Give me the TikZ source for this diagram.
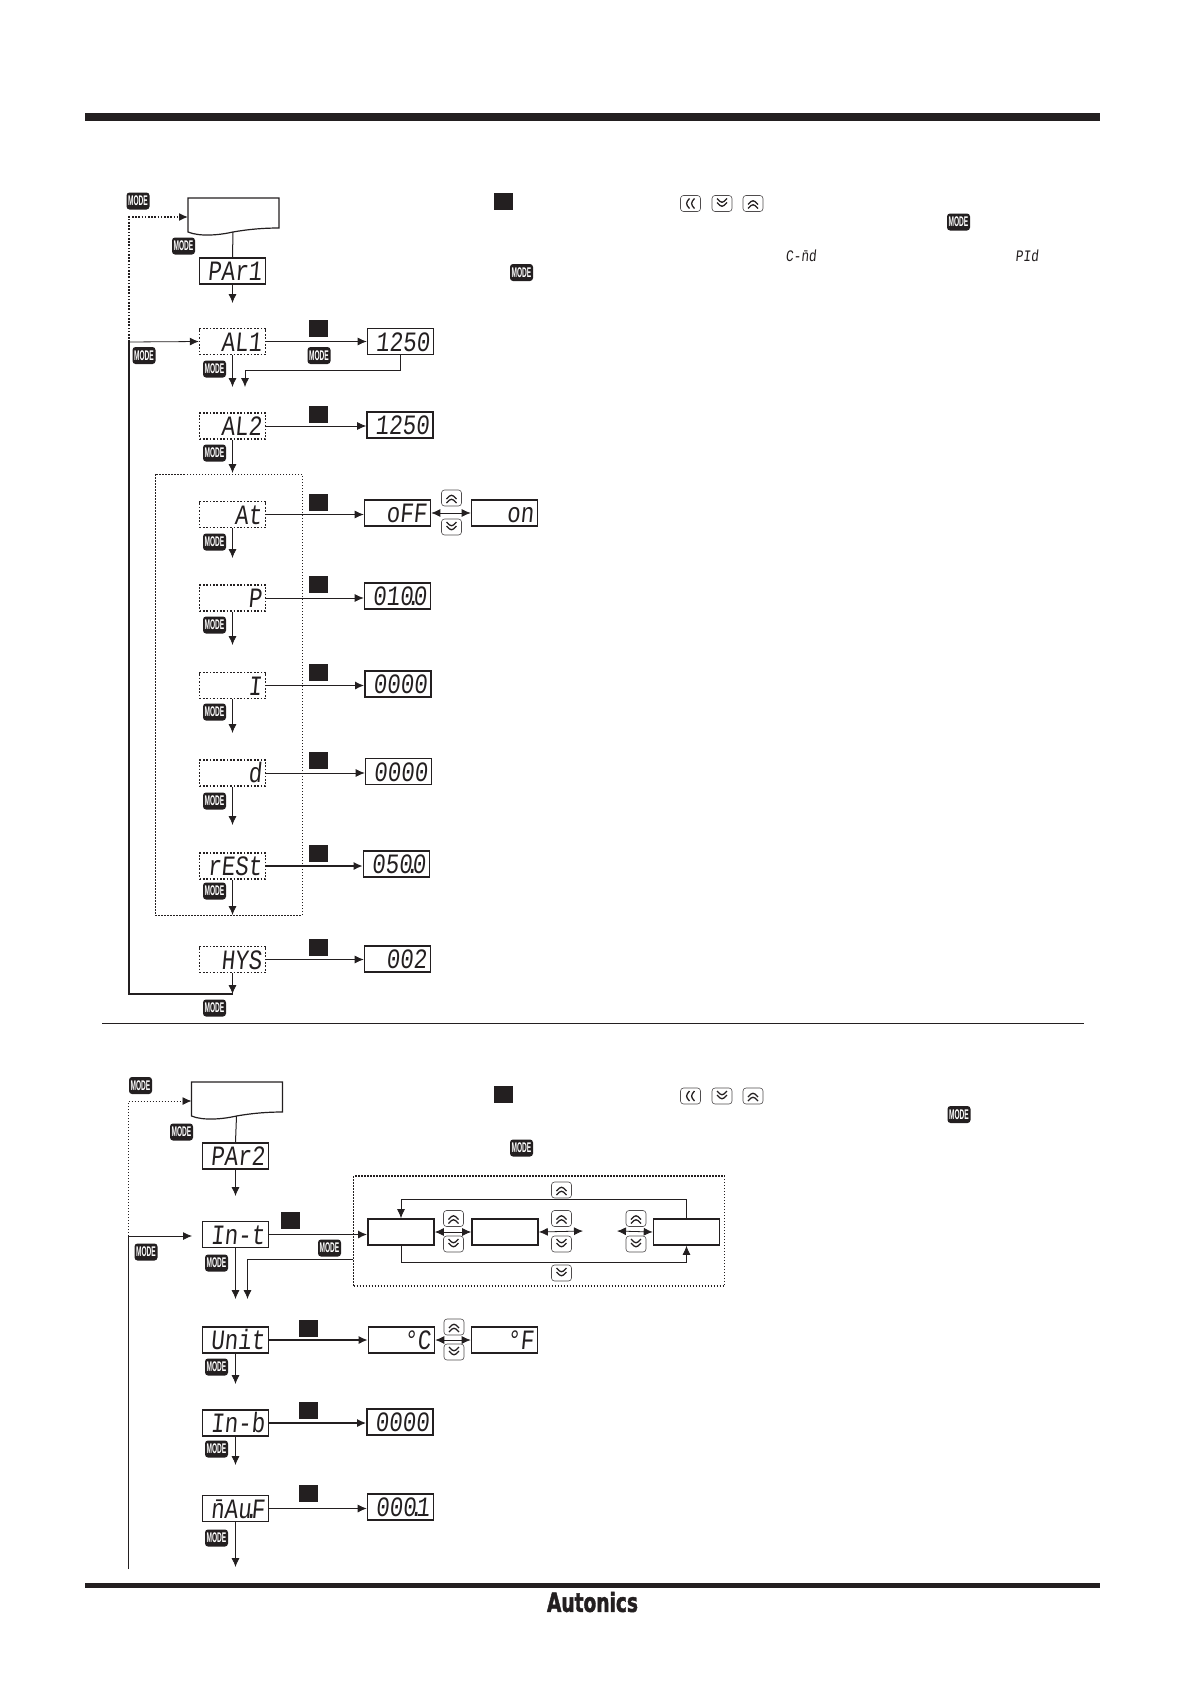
\documentclass[tikz,border=0pt]{standalone}
\usepackage{fontspec}
\usepackage{xcolor}
\usetikzlibrary{arrows.meta}
\newfontfamily\lcdfont[FakeSlant=0.1,FakeStretch=0.8]{Liberation Mono}
\newfontfamily\keyfont[FakeStretch=0.47]{Liberation Sans}
\newfontfamily\brandfont[BoldFeatures={FakeBold=2}]{DejaVu Sans}
\newcommand{\lcddot}{\kern-.24em.\kern-.24em}
\definecolor{ink}{HTML}{231F20}

\tikzset{
  lcd/.style={draw=ink, line width=1.6pt, inner xsep=4pt, inner ysep=0pt, text width=58pt, align=right,
    minimum height=26pt, text height=19.5pt, text depth=0pt, text=ink,
    font=\lcdfont\fontsize{28pt}{28pt}\selectfont},
  lcddash/.style={lcd, line width=1.4pt, dash pattern=on 1.7pt off 1.7pt},
  lcdsmall/.style={inner sep=0pt, text=ink, font=\lcdfont\fontsize{16pt}{16pt}\selectfont},
  flow/.style={draw=ink, line width=0.8pt, -{Latex[length=9pt,width=8pt]}},
  flowthick/.style={flow, line width=1.5pt},
  both/.style={draw=ink, line width=0.8pt, {Latex[length=9pt,width=8pt]}-{Latex[length=9pt,width=8pt]}},
  dashframe/.style={draw=ink, line width=1pt, dash pattern=on 1.5pt off 1.5pt, inner sep=0pt},
  blacksq/.style={fill=ink, inner sep=0pt, minimum width=19pt, minimum height=17pt},
  modekey/.style={fill=ink, text=white, rounded corners=3pt, inner sep=0pt, minimum width=23pt, minimum height=17pt,
    font=\keyfont\bfseries\fontsize{14pt}{14pt}\selectfont},
  arrowkey/.style={draw=ink!80, line width=0.6pt, rounded corners=3pt, inner sep=0pt, minimum width=20pt, minimum height=16pt},
  upkey/.style={arrowkey, path picture={
    \draw[ink, line width=1.3pt, shift={(path picture bounding box.center)}] (-5,1) -- (0,-4) -- (5,1) (-5,5) -- (0,0) -- (5,5);}},
  downkey/.style={arrowkey, path picture={
    \draw[ink, line width=1.3pt, shift={(path picture bounding box.center)}] (-5,-1) -- (0,4) -- (5,-1) (-5,-5) -- (0,0) -- (5,-5);}},
  leftkey/.style={arrowkey, path picture={
    \draw[ink, line width=1.3pt, shift={(path picture bounding box.center)}] (-1,-5) -- (-5,0) -- (-1,5) (4,-5) -- (0,0) -- (4,5);}},
}

\begin{document}
\begin{tikzpicture}[x=1pt, y=-1pt]
  \useasboundingbox (0,0) rectangle (1190,1684);

  % page rules
  \fill[ink] (85,113) rectangle (1100,121);
  \fill[ink] (85,1583) rectangle (1100,1588);
  \draw[ink, line width=1pt] (102,1023.5) -- (1084,1023.5);

  % the two menu sheets
  \foreach \nm/\sx/\sy in {sheeta/188/198, sheetb/191.5/1082} {
    \begin{scope}[shift={(\sx,\sy)}]
      \draw[ink, line width=1.2pt] (0,0) -- (91,0) -- (91,30) .. controls (77,30) and (62,31) .. (45,34)
        .. controls (32,37) and (12,39) .. (0,34) -- cycle;
      \coordinate (\nm bottom) at (45,34);
      \coordinate (\nm side) at (0,19);
    \end{scope}
  }

  % parameter displays
  \foreach \nm/\y/\txt in {al1/341.5/AL1, al2/426/AL2, at/514.5/At, pp/598/P, ii/685.5/I, dd/773/d, rest/866/rESt, hys/959.5/HYS} {
    \node[lcddash] (\nm) at (232.5,\y) {\txt};
  }
  \node[lcd] (par1) at (232.5,271) {PAr1};
  \node[lcd] (par2) at (235.5,1156) {PAr2};
  \node[lcd] (int) at (235.5,1234.5) {In-t};
  \node[lcd] (unit) at (235.5,1340) {Unit};
  \node[lcd] (inb) at (235.5,1423) {In-b};
  \node[lcd] (mauf) at (235.5,1508.5) {\=nAu\lcddot F};

  % value displays
  \foreach \nm/\x/\y/\txt in {va1/400.5/341.5/1250, va2/400/425/1250, off/397.5/513/oFF, on/504.5/513/on,
    vp/397.5/596/010\lcddot 0, vi/398/684/0000, vd/398.5/771.5/0000, vr/396.5/864/050\lcddot 0, vh/397.5/959/002,
    degc/401.5/1340/°C, degf/504.5/1340/°F, vb/400/1422/0000, vm/400.5/1507/000\lcddot 1} {
    \node[lcd] (\nm) at (\x,\y) {\txt};
  }

  % empty choice boxes
  \foreach \nm/\x in {boxa/401, boxb/505, boxc/686.5} {
    \node[lcd] (\nm) at (\x,1232) {};
  }

  % dotted frames
  \node[dashframe, minimum width=147pt, minimum height=441pt] (groupa) at (228.5,694.5) {};
  \node[dashframe, line width=1.2pt, minimum width=371pt, minimum height=110pt] (groupb) at (539,1231) {};

  % black squares
  \foreach \nm/\x/\y in {sa/318.5/328.5, sb/318.5/414, sc/318.5/502, sd/318.5/584.5, se/318.5/672.5, sf/318.5/760,
    sg/318.5/853.5, sh/318.5/947.5, si/503.5/201, sj/503.5/1094, sk/290/1220.5, sl/308/1328.5, sm/308/1410.5, sn/308/1493.5} {
    \node[blacksq] (\nm) at (\x,\y) {};
  }

  % MODE keys
  \foreach \nm/\x/\y in {ma/138/201, mb/183.5/246, mc/144/355.5, md/319/355.5, me/214.5/369, mf/214.5/453, mg/214.5/542,
    mh/214.5/625, mi/214.5/712, mj/214.5/801, mk/214.5/891, ml/214.5/1008, mm/958.5/222, mn/521.5/272.5,
    mo/140.5/1085.5, mp/181.5/1132, mq/146/1252, mr/329.5/1248, ms/216.5/1263, mt/216.5/1367, mu/216.5/1449, mv/216.5/1538,
    mw/521.5/1148, mx/959/1114.5} {
    \node[modekey] (\nm) at (\x,\y) {MODE};
  }

  % arrow keys
  \foreach \nm/\x/\y in {ua/753/203.5, ub/451.5/498, uc/753/1096, ud/561.5/1190, ue/453.5/1218.5, uf/561.5/1218.5, ug/636/1218.5, uh/454/1327} {
    \node[upkey] (\nm) at (\x,\y) {};
  }
  \foreach \nm/\x/\y in {da/722/203.5, db/451.5/527, dc/722/1096, dd2/561.5/1273, de/453.5/1244, df/561.5/1244, dg/636/1244, dh/454/1352} {
    \node[downkey] (\nm) at (\x,\y) {};
  }
  \node[leftkey] (la) at (690.5,203.5) {};
  \node[leftkey] (lb) at (690.5,1096) {};

  % small display words
  \node[lcdsmall] (cmd) at (801,255.5) {C-\=nd};
  \node[lcdsmall] (pid) at (1027,255.5) {PId};

  % brand
  \node[inner sep=0pt, text=ink] (brand) at (592.5,1602) {\resizebox{91pt}{20pt}{\brandfont\bfseries Autonics}};

  % down arrows
  \foreach \a/\y in {par1/303, al1/387, al2/473, at/558, pp/645, ii/733, dd/825, rest/915, hys/994,
    par2/1196, int/1299, unit/1384, inb/1465, mauf/1567} {
    \coordinate (\a end) at (\a.south |- 0,\y);
    \draw[flow] (\a.south) -- (\a end);
  }
  \draw[ink, line width=1pt] (sheetabottom) -- (par1.north);
  \draw[ink, line width=1pt] (sheetbbottom) -- (par2.north);

  % arrows to the values
  \foreach \a/\b/\st in {al1/va1/flow, al2/va2/flow, at/off/flow, pp/vp/flow, ii/vi/flowthick, dd/vd/flow, rest/vr/flowthick,
    hys/vh/flow, int/boxa/flowthick, unit/degc/flowthick, inb/vb/flowthick, mauf/vm/flow} {
    \draw[\st] (\a.east) -- (\a.east -| \b.west);
  }

  % return from the first value
  \coordinate (backa) at (245,387);
  \draw[flow] (va1.south) |- (backa |- 0,370) -- (backa);
  \coordinate (backb) at (247.5,1299);
  \draw[flow] (groupb.west |- 0,1259) -- (backb |- 0,1259) -- (backb);

  % loops at the left
  \coordinate (loopa) at (129,342);
  \coordinate (loopb) at (128.5,1236);
  \coordinate (loopc) at (128.5,1569);
  \draw[ink, line width=1.4pt] (hysend) -- (hysend -| loopa) -- (loopa);
  \draw[flow] (loopa) -- (al1.west);
  \draw[flow, line width=1.4pt, dash pattern=on 1.6pt off 1.6pt] (loopa) |- (sheetaside);
  \draw[ink, line width=0.8pt] (loopc) -- (loopb);
  \coordinate (loopd) at (192,1236);
  \draw[flow] (loopb) -- (loopd);
  \draw[flow, dash pattern=on 1.5pt off 1.5pt] (loopb) |- (sheetbside);

  % toggles
  \coordinate (gapa) at (583,1231);
  \coordinate (gapb) at (617,1231);
  \draw[both] (off.east) -- (on.west);
  \draw[both] (degc.east) -- (degf.west);
  \draw[both] (boxa.east) -- (boxb.west);
  \draw[both] (boxb.east) -- (gapa);
  \draw[both] (gapb) -- (boxc.west);
  \coordinate (rima) at (686.5,1199);
  \coordinate (rimb) at (401,1262);
  \draw[flow] (boxc.north) -- (rima) -- (rima -| boxa.north) -- (boxa.north);
  \draw[flow] (boxa.south) -- (rimb) -- (rimb -| boxc.south) -- (boxc.south);
\end{tikzpicture}
\end{document}
